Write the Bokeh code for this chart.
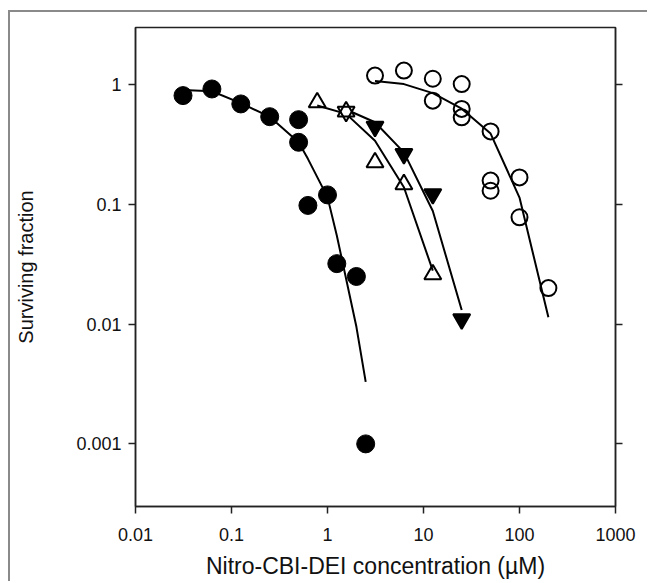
from bokeh.plotting import figure
from bokeh.models import LogAxis, FixedTicker, Range1d
from bokeh.embed import file_html
from bokeh.resources import INLINE

# ---- data ----
fc_x = [0.03125, 0.0625, 0.125, 0.25, 0.5, 0.5, 0.625, 1.0, 1.25, 2.0, 2.5]
fc_y = [0.81, 0.92, 0.69, 0.54, 0.51, 0.33, 0.098, 0.12, 0.032, 0.025, 0.001]
fc_fit_x = [0.03125, 0.0625, 0.125, 0.25, 0.5, 0.625, 1.0, 1.25, 2.0, 2.5]
fc_fit_y = [0.90, 0.88, 0.70, 0.54, 0.33, 0.24, 0.115, 0.055, 0.0095, 0.0033]

ot_x = [0.78125, 1.5625, 3.125, 6.25, 12.5]
ot_y = [0.71, 0.595, 0.224, 0.147, 0.026]
ot_fit_y = [0.67, 0.57, 0.34, 0.139, 0.028]

dt_x = [1.5625, 3.125, 6.25, 12.5, 25.0]
dt_y = [0.595, 0.446, 0.264, 0.122, 0.011]
dt_fit_y = [0.62, 0.485, 0.272, 0.088, 0.0131]
dt_fill = ["white", "black", "black", "black", "black"]

oc_x = [3.125, 6.25, 12.5, 12.5, 25.0, 25.0, 25.0, 50.0, 50.0, 50.0, 100.0, 100.0, 200.0]
oc_y = [1.19, 1.31, 1.12, 0.735, 1.01, 0.627, 0.533, 0.407, 0.158, 0.13, 0.168, 0.078, 0.020]
oc_fit_x = [3.125, 6.25, 12.5, 25.0, 50.0, 100.0, 200.0]
oc_fit_y = [1.07, 1.01, 0.85, 0.63, 0.39, 0.114, 0.0114]

x_ticks = [0.01, 0.1, 1, 10, 100, 1000]
x_tick_labels = ["0.01", "0.1", "1", "10", "100", "1000"]
y_ticks = [0.001, 0.01, 0.1, 1]
y_tick_labels = ["0.001", "0.01", "0.1", "1"]

x_title = "Nitro-CBI-DEI concentration (\u00b5M)"
y_title = "Surviving fraction"

FONT = "Liberation Sans"

p = figure(width=639, height=571, x_axis_type="log", y_axis_type="log",
           x_range=Range1d(0.01, 1000), y_range=Range1d(0.0003, 3),
           output_backend="svg", toolbar_location=None,
           min_border_left=125, min_border_right=34, min_border_top=15,
           min_border_bottom=77)
p.styles = {"border-top": "2px solid #8a8a8a", "border-left": "2px solid #8a8a8a",
            "margin-left": "8px", "margin-top": "10px"}
p.grid.visible = False
p.outline_line_color = "#222222"
p.outline_line_width = 1.5
p.background_fill_color = "white"
p.border_fill_color = "white"

# fitted curves
p.line(fc_fit_x, fc_fit_y, line_color="black", line_width=2)
p.line(ot_x, ot_fit_y, line_color="black", line_width=2)
p.line(dt_x, dt_fit_y, line_color="black", line_width=2)
p.line(oc_fit_x, oc_fit_y, line_color="black", line_width=2)

# markers
p.scatter(fc_x, fc_y, marker="circle", size=18, fill_color="black", line_color="black")
p.scatter(dt_x, dt_y, marker="inverted_triangle", size=17, fill_color=dt_fill,
          line_color="black", line_width=2)
p.scatter(ot_x, ot_y, marker="triangle", size=17, fill_color=None,
          line_color="black", line_width=2)
p.scatter(oc_x, oc_y, marker="circle", size=16, fill_color=None,
          line_color="black", line_width=2)

x_over = {t: l for t, l in zip(x_ticks, x_tick_labels)}
y_over = {t: l for t, l in zip(y_ticks, y_tick_labels)}

def style_axis(ax, ticks, over):
    ax.ticker = FixedTicker(ticks=ticks)
    ax.major_label_overrides = over
    ax.axis_line_color = "#222222"
    ax.axis_line_width = 1.5
    ax.major_tick_line_color = "#222222"
    ax.major_tick_line_width = 1.5
    ax.major_tick_in = 0
    ax.major_tick_out = 7
    ax.minor_tick_line_color = None
    ax.major_label_text_font = FONT
    ax.major_label_text_font_size = "18px"
    ax.major_label_text_color = "#111111"
    ax.axis_label_text_font = FONT
    ax.axis_label_text_font_style = "normal"
    ax.axis_label_text_color = "#111111"

xa = p.xaxis[0]
style_axis(xa, x_ticks, x_over)
xa.axis_label = x_title
xa.axis_label_text_font_size = "23px"
xa.major_label_standoff = 14
xa.axis_label_standoff = 9

ya = p.yaxis[0]
style_axis(ya, y_ticks, y_over)
ya.axis_label = y_title
ya.axis_label_text_font_size = "20px"
ya.major_label_standoff = 7
ya.axis_label_standoff = 36

ra = LogAxis()
style_axis(ra, y_ticks, y_over)
ra.major_label_text_font_size = "0px"
ra.major_label_text_color = None
p.add_layout(ra, "right")

open("out.html", "w").write(file_html(p, INLINE))
